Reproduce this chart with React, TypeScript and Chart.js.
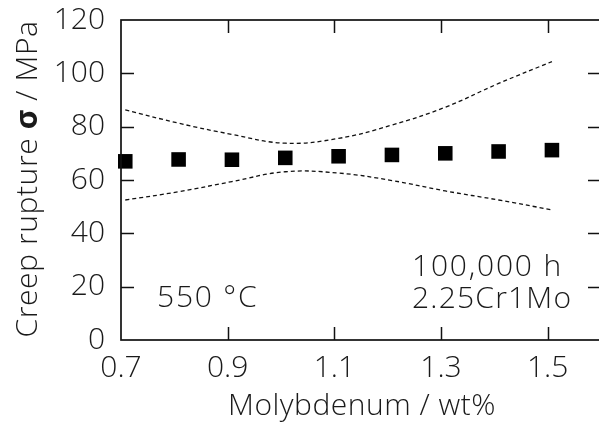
import React, { useEffect, useRef } from "react";
import { Chart, registerables } from "chart.js";

Chart.register(...registerables);

// Molybdenum content (wt%)
const moContent = [0.708, 0.808, 0.908, 1.008, 1.108, 1.208, 1.308, 1.408, 1.508];
// Creep rupture strength (MPa)
const ruptureStrength = [67.0, 67.7, 67.6, 68.3, 68.9, 69.4, 70.0, 70.7, 71.2];
// Upper and lower bounds (MPa)
const upperBound = [86.3, 81.3, 77.1, 73.8, 75.6, 80.6, 87.3, 96.2, 104.4];
const lowerBound = [52.5, 55.6, 59.4, 63.1, 62.6, 59.8, 55.9, 52.5, 48.8];

const xTickValues = [0.7, 0.9, 1.1, 1.3, 1.5];
const yTickValues = [0, 20, 40, 60, 80, 100, 120];

const xTitle = "Molybdenum / wt%";
const yTitleParts = ["Creep rupture ", "σ", " / MPa"];
const tempLabel = "550 °C";
const timeLabel = "100,000 h";
const alloyLabel = "2.25Cr1Mo";

const FONT = "'Open Sans', 'Liberation Sans', Arial, sans-serif";
const W = 300;
const SIZE = 30;
const INK = "#1a1a1a";

const framePlugin = {
  id: "framePlugin",
  afterDraw(chart: any) {
    const { ctx, chartArea: a, scales } = chart;
    const xs = scales.x;
    const ys = scales.y;
    ctx.save();
    ctx.strokeStyle = "#111";
    ctx.lineWidth = 1.7;
    ctx.strokeRect(a.left, a.top, a.right - a.left, a.bottom - a.top);
    ctx.lineWidth = 1.5;
    ctx.beginPath();
    const tl = 13;
    for (const v of yTickValues) {
      if (v === 0 || v === 120) continue;
      const py = Math.round(ys.getPixelForValue(v)) + 0.5;
      ctx.moveTo(a.left, py);
      ctx.lineTo(a.left + tl, py);
      ctx.moveTo(a.right, py);
      ctx.lineTo(a.right - tl, py);
    }
    for (const v of xTickValues) {
      if (v === 0.7) continue;
      const px = Math.round(xs.getPixelForValue(v)) + 0.5;
      ctx.moveTo(px, a.bottom);
      ctx.lineTo(px, a.bottom - tl);
      ctx.moveTo(px, a.top);
      ctx.lineTo(px, a.top + tl);
    }
    ctx.stroke();

    ctx.fillStyle = INK;
    // annotations
    ctx.font = `${W} ${SIZE}px ${FONT}`;
    ctx.textBaseline = "alphabetic";
    ctx.textAlign = "left";
    (ctx as any).letterSpacing = "1.8px";
    ctx.fillText(tempLabel, a.left + 36, a.bottom - 33);
    ctx.fillText(timeLabel, a.left + 291, a.bottom - 64);
    (ctx as any).letterSpacing = "1.2px";
    ctx.fillText(alloyLabel, a.left + 291, a.bottom - 32);

    // x title
    (ctx as any).letterSpacing = "0.5px";
    ctx.textAlign = "center";
    ctx.fillText(xTitle, (a.left + a.right) / 2 + 1, a.bottom + 75);

    // y title with bold sigma
    (ctx as any).letterSpacing = "0.6px";
    ctx.save();
    ctx.translate(37, (a.top + a.bottom) / 2 - 1);
    ctx.rotate(-Math.PI / 2);
    ctx.textAlign = "left";
    const fonts = [`${W} ${SIZE}px ${FONT}`, `bold ${SIZE}px ${FONT}`, `${W} ${SIZE}px ${FONT}`];
    let total = 0;
    const widths = yTitleParts.map((t, i) => {
      ctx.font = fonts[i];
      const w = ctx.measureText(t).width;
      total += w;
      return w;
    });
    let cx = -total / 2;
    yTitleParts.forEach((t, i) => {
      ctx.font = fonts[i];
      ctx.fillText(t, cx, 0);
      cx += widths[i];
    });
    ctx.restore();
    ctx.restore();
  },
};

const zeroPad = (s: any) => {
  s.paddingTop = 0;
  s.paddingBottom = 0;
  s.paddingLeft = 0;
  s.paddingRight = 0;
};

export default function App() {
  const ref = useRef<HTMLCanvasElement>(null);
  useEffect(() => {
    document.body.style.margin = "0";
    document.body.style.overflow = "hidden";
    const canvas = ref.current!;
    const chart = new Chart(canvas, {
      type: "line",
      data: {
        datasets: [
          {
            label: "Upper",
            data: moContent.map((x, i) => ({ x, y: upperBound[i] })),
            borderColor: "#111",
            borderWidth: 1.3,
            borderDash: [4, 3],
            pointRadius: 0,
            tension: 0.4,
            fill: false,
          },
          {
            label: "Lower",
            data: moContent.map((x, i) => ({ x, y: lowerBound[i] })),
            borderColor: "#111",
            borderWidth: 1.3,
            borderDash: [4, 3],
            pointRadius: 0,
            tension: 0.4,
            fill: false,
          },
          {
            label: "Strength",
            data: moContent.map((x, i) => ({ x, y: ruptureStrength[i] })),
            showLine: false,
            pointStyle: "rect",
            pointRadius: 10.3,
            pointBorderWidth: 0,
            backgroundColor: "#000",
            borderColor: "#000",
            clip: false as any,
          },
        ],
      },
      options: {
        responsive: false,
        animation: false,
        layout: { padding: { left: 0, top: 20, right: 19, bottom: 0 } },
        plugins: { legend: { display: false }, tooltip: { enabled: false } },
        scales: {
          x: {
            type: "linear",
            min: 0.7,
            max: 1.6,
            afterBuildTicks: (s: any) => {
              s.ticks = xTickValues.map((v) => ({ value: v }));
            },
            afterFit: (s: any) => {
              s.height = 83;
              zeroPad(s);
            },
            grid: { display: false, drawTicks: false },
            border: { display: false },
            ticks: {
              autoSkip: false,
              maxRotation: 0,
              padding: 10,
              color: INK,
              font: { family: FONT, size: SIZE, weight: W as any },
              callback: (v: any) => Number(v).toFixed(1),
            },
          },
          y: {
            type: "linear",
            min: 0,
            max: 120,
            afterBuildTicks: (s: any) => {
              s.ticks = yTickValues.map((v) => ({ value: v }));
            },
            afterFit: (s: any) => {
              s.width = 121;
              zeroPad(s);
            },
            grid: { display: false, drawTicks: false },
            border: { display: false },
            ticks: {
              autoSkip: false,
              padding: 16,
              color: INK,
              font: { family: FONT, size: SIZE, weight: W as any },
              callback: (v: any) => String(v),
            },
          },
        },
      },
      plugins: [framePlugin],
    });
    return () => chart.destroy();
  }, []);
  return (
    <div style={{ position: "fixed", left: 0, top: 0, width: 620, height: 423 }}>
      <canvas ref={ref} width={620} height={423} />
    </div>
  );
}
